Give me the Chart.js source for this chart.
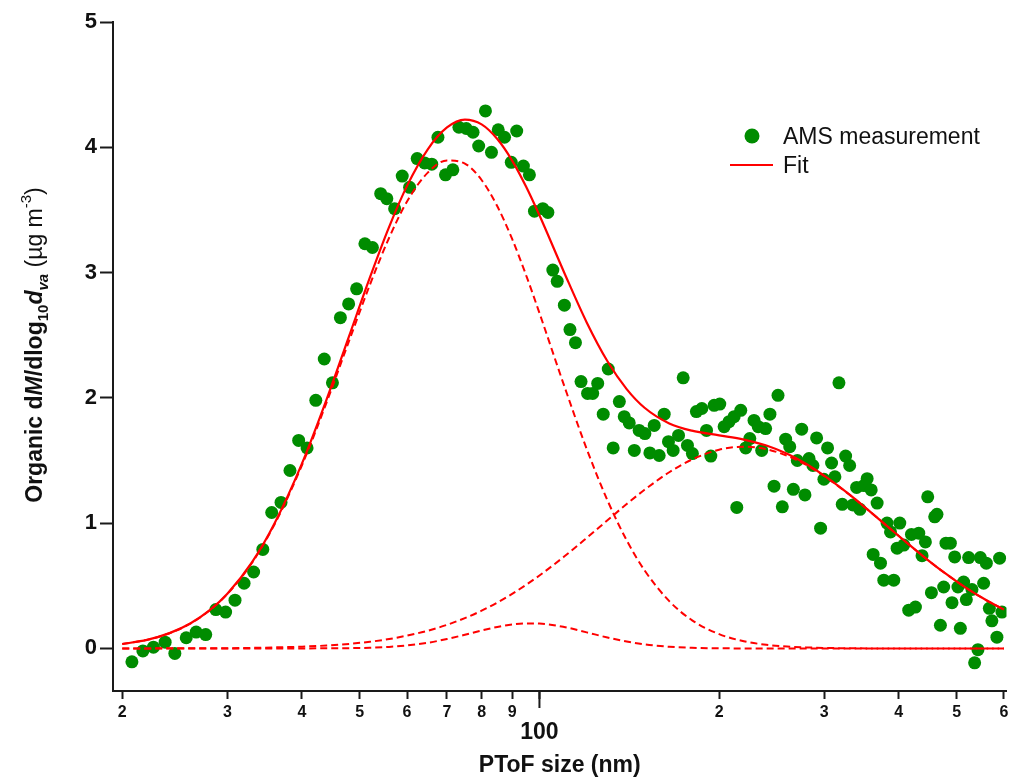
<!DOCTYPE html>
<html><head><meta charset="utf-8">
<script src="https://cdn.jsdelivr.net/npm/chart.js@4.4.1/dist/chart.umd.min.js"></script>
<style>html,body{margin:0;padding:0;background:#fff;}#wrap{width:1013px;height:782px;}</style>
</head><body><div id="wrap"><canvas id="c" width="1013" height="782"></canvas></div>
<script>
// ---- data ----
const amsSize = [20.76,21.66,22.56,23.6,24.5,25.6,26.6,27.6,28.7,29.8,30.9,32.0,33.2,34.4,35.6,36.9,38.2,39.5,40.8,42.2,43.6,45.0,46.4,47.9,49.4,51.0,52.5,54.2,55.5,57.2,58.9,60.6,62.4,64.2,66.0,67.6,69.6,71.6,73.3,75.4,77.4,79.1,81.2,83.1,85.3,87.4,89.7,91.6,94.0,96.2,98.1,101.3,103.3,105.3,107.1,110.1,112.5,114.9,117.4,120.4,122.8,125.2,127.9,130.4,132.9,136.1,138.7,141.4,144.2,146.9,150.2,153.1,155.7,158.7,161.8,164.5,167.5,171.0,174.1,177.0,180.4,183.2,187.1,190.5,193.7,196.2,200.5,203.9,207.8,211.9,214.1,217.4,221.6,225.1,228.8,232.6,235.7,239.3,243.3,247.2,251.0,255.2,258.5,262.6,266.3,270.4,275.0,278.5,282.9,287.2,291.3,295.8,299.6,303.9,308.6,312.6,317.5,321.6,325.8,330.9,335.1,339.9,344.3,349.6,354.0,359.6,362.3,367.9,372.7,377.5,382.3,387.4,392.3,397.4,401.5,407.7,415.6,420.0,426.5,432.0,437.5,443.2,447.2,453.6,459.4,463.4,469.6,475.6,479.8,488.0,491.1,496.2,502.5,507.2,513.6,519.0,523.7,530.4,535.9,542.8,547.8,554.8,560.6,567.2,572.8,584.0,590.1,595.4];
const amsValue = [-0.107,-0.02,0.01,0.05,-0.04,0.085,0.13,0.11,0.31,0.29,0.385,0.52,0.61,0.79,1.085,1.165,1.42,1.66,1.60,1.98,2.31,2.12,2.64,2.75,2.87,3.23,3.20,3.63,3.59,3.51,3.77,3.68,3.91,3.875,3.865,4.08,3.78,3.82,4.16,4.15,4.12,4.01,4.29,3.96,4.14,4.08,3.88,4.13,3.85,3.78,3.49,3.51,3.48,3.02,2.93,2.74,2.545,2.44,2.13,2.035,2.035,2.115,1.87,2.23,1.60,1.97,1.85,1.80,1.58,1.74,1.715,1.56,1.78,1.54,1.87,1.65,1.58,1.70,2.16,1.62,1.555,1.89,1.915,1.74,1.535,1.94,1.95,1.77,1.81,1.85,1.125,1.90,1.60,1.675,1.82,1.77,1.58,1.755,1.87,1.295,2.02,1.13,1.67,1.61,1.27,1.50,1.75,1.225,1.515,1.46,1.68,0.96,1.35,1.60,1.48,1.37,2.12,1.15,1.535,1.46,1.145,1.285,1.11,1.30,1.355,1.265,0.75,1.16,0.68,0.545,1.00,0.93,0.545,0.80,1.00,0.825,0.305,0.91,0.33,0.92,0.74,0.85,1.21,0.445,1.05,1.07,0.185,0.49,0.84,0.84,0.365,0.73,0.49,0.16,0.53,0.39,0.725,0.47,-0.115,-0.01,0.725,0.52,0.68,0.32,0.22,0.09,0.72,0.29];
const fitSize = [20,22,24,26,28,30,33,36,40,44,48,52,56,60,65,70,75,80,85,90,95,100,110,120,130,140,150,165,180,200,220,240,260,280,300,330,360,400,440,480,520,560,600];
const fitTotal = [0.035,0.068,0.122,0.199,0.303,0.436,0.688,0.999,1.475,1.988,2.495,2.961,3.365,3.692,3.984,4.158,4.221,4.183,4.066,3.894,3.685,3.457,3.001,2.602,2.292,2.070,1.921,1.796,1.738,1.701,1.667,1.619,1.553,1.472,1.379,1.231,1.082,0.897,0.733,0.594,0.479,0.386,0.310];
const mode1 = [0.035,0.068,0.121,0.198,0.302,0.434,0.684,0.991,1.461,1.964,2.457,2.903,3.278,3.567,3.798,3.895,3.870,3.739,3.529,3.268,2.978,2.677,2.097,1.592,1.182,0.863,0.623,0.377,0.226,0.114,0.057,0.029,0.015,0.008,0.004,0.001,0,0,0,0,0,0,0];
const mode2 = [0,0,0.001,0.001,0.002,0.002,0.004,0.008,0.014,0.023,0.036,0.053,0.075,0.102,0.141,0.188,0.242,0.301,0.366,0.435,0.508,0.582,0.733,0.882,1.023,1.152,1.266,1.406,1.507,1.586,1.610,1.590,1.538,1.464,1.375,1.230,1.082,0.897,0.733,0.594,0.479,0.386,0.310];
const mode3 = [0,0,0,0,0,0,0,0,0,0.001,0.002,0.005,0.012,0.024,0.045,0.075,0.109,0.143,0.171,0.191,0.199,0.198,0.171,0.128,0.087,0.055,0.032,0.013,0.005,0.001,0,0,0,0,0,0,0,0,0,0,0,0,0];
const xTickValues = [20,30,40,50,60,70,80,90,100,200,300,400,500,600];
const xTickLabels = ['2','3','4','5','6','7','8','9','100','2','3','4','5','6'];
const yTickValues = [0,1,2,3,4,5];
const legendLabels = ['AMS measurement','Fit'];
const xTitle = 'PToF size (nm)';

// ---- styling ----
const GREEN = '#008c00', RED = '#ff0000', AXIS = '#1a1a1a';
const FONT = "'Liberation Sans', Arial, sans-serif";
const pts = (xs, ys) => xs.map((x, i) => ({x: x, y: ys[i]}));
const dashed = (data) => ({type:'line', data: pts(fitSize, data), borderColor: RED, borderWidth: 2, borderDash:[7,4], pointRadius:0, fill:false, cubicInterpolationMode:'monotone', order:1});

const overlay = {
  id: 'overlay',
  afterDraw(chart) {
    const ctx = chart.ctx, xs = chart.scales.x, ys = chart.scales.y;
    ctx.save();
    // longer major tick at 100
    const px = xs.getPixelForValue(100);
    ctx.strokeStyle = AXIS; ctx.lineWidth = 2;
    ctx.beginPath(); ctx.moveTo(px, ys.bottom); ctx.lineTo(px, ys.bottom + 17); ctx.stroke();
    // legend
    ctx.fillStyle = GREEN;
    ctx.beginPath(); ctx.arc(752, 136, 7.5, 0, Math.PI * 2); ctx.fill();
    ctx.strokeStyle = RED; ctx.lineWidth = 2.2;
    ctx.beginPath(); ctx.moveTo(730, 165); ctx.lineTo(773, 165); ctx.stroke();
    ctx.fillStyle = '#111';
    ctx.font = '23px ' + FONT; ctx.textBaseline = 'alphabetic'; ctx.textAlign = 'left';
    ctx.fillText(legendLabels[0], 783, 144);
    ctx.fillText(legendLabels[1], 783, 173);
    // y axis title (rich text)
    const segs = [
      {t:'Organic d', f:'bold 23px ', dy:0},
      {t:'M', f:'italic bold 23px ', dy:0},
      {t:'/dlog', f:'bold 23px ', dy:0},
      {t:'10', f:'bold 15px ', dy:6},
      {t:'d', f:'italic bold 23px ', dy:0},
      {t:'va', f:'italic bold 15px ', dy:6},
      {t:' (\u00b5g m', f:'23px ', dy:0},
      {t:'-3', f:'15px ', dy:-11},
      {t:')', f:'23px ', dy:0}
    ];
    let total = 0;
    segs.forEach(s => { ctx.font = s.f + FONT; s.w = ctx.measureText(s.t).width; total += s.w; });
    ctx.translate(42, 345);
    ctx.rotate(-Math.PI / 2);
    let cx = -total / 2;
    segs.forEach(s => { ctx.font = s.f + FONT; ctx.fillText(s.t, cx, s.dy); cx += s.w; });
    ctx.restore();
  }
};

new Chart(document.getElementById('c'), {
  type: 'scatter',
  data: {
    datasets: [
      {type:'line', label: legendLabels[1], data: pts(fitSize, fitTotal), borderColor: RED, borderWidth: 2.2, pointRadius:0, fill:false, cubicInterpolationMode:'monotone', order:0},
      dashed(mode1), dashed(mode2), dashed(mode3),
      {type:'scatter', label: legendLabels[0], data: pts(amsSize, amsValue), backgroundColor: GREEN, borderWidth:0, pointRadius:6.5, pointHoverRadius:6.5, order:2}
    ]
  },
  options: {
    responsive: false, animation: false, devicePixelRatio: 1,
    layout: {padding: {top: 22, right: 5, left: 0, bottom: 0}},
    plugins: {legend: {display: false}, tooltip: {enabled: false}},
    scales: {
      x: {
        type: 'logarithmic', min: 19.3, max: 606,
        afterBuildTicks: s => { s.ticks = xTickValues.map(v => ({value: v})); },
        afterFit: s => { s.height = 91; },
        border: {display: true, color: AXIS, width: 2},
        grid: {display: true, drawOnChartArea: false, drawTicks: true, tickLength: 8, tickWidth: 2, tickColor: AXIS},
        ticks: {
          autoSkip: false, maxRotation: 0, padding: 4, color: '#111',
          callback: (v, i) => (xTickLabels[i] === '100' ? ['', '100'] : xTickLabels[i]),
          font: ctx => (ctx.tick && ctx.tick.value === 100) ? {family: FONT, size: 23, weight: 'bold', lineHeight: 0.87} : {family: FONT, size: 16, weight: 'bold'}
        },
        title: {display: true, text: xTitle, color: '#111', font: {family: FONT, size: 23, weight: 'bold'}, padding: {top: 0, bottom: 3}}
      },
      y: {
        type: 'linear', min: -0.34, max: 5,
        afterBuildTicks: s => { s.ticks = yTickValues.map(v => ({value: v})); },
        afterFit: s => { s.width = 113; },
        border: {display: true, color: AXIS, width: 2},
        grid: {display: true, drawOnChartArea: false, drawTicks: true, tickLength: 13, tickWidth: 2, tickColor: AXIS},
        ticks: {padding: 3, color: '#111', font: {family: FONT, size: 22, weight: 'bold'}, callback: v => String(v)}
      }
    }
  },
  plugins: [overlay]
});
</script></body></html>
